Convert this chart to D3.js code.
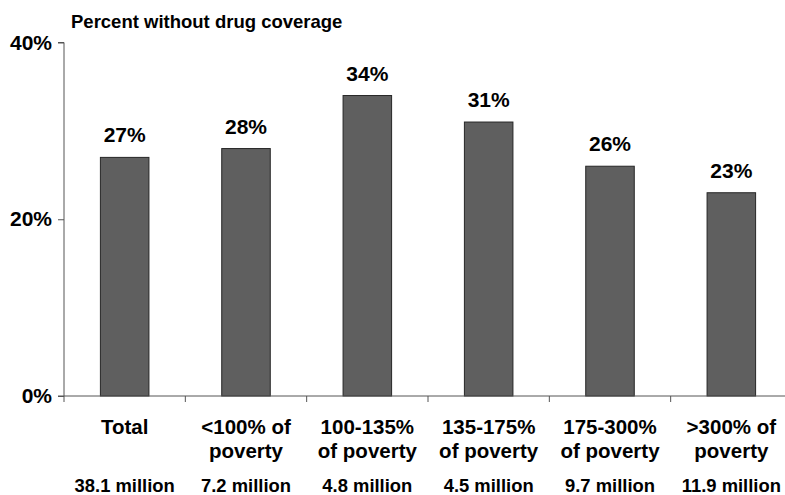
<!DOCTYPE html>
<html>
<head>
<meta charset="utf-8">
<script src="https://cdn.jsdelivr.net/npm/d3@7/dist/d3.min.js"></script>
<style>
  html, body { margin: 0; padding: 0; background: #fff; }
  svg { display: block; font-family: "Liberation Sans", Arial, sans-serif; font-weight: bold; }
</style>
</head>
<body>
<svg id="chart" width="785" height="495"></svg>
<script>
// Share of each income group without prescription drug coverage
const categories = ["Total", "<100% of poverty", "100-135% of poverty", "135-175% of poverty", "175-300% of poverty", ">300% of poverty"];
const categoryLines = [["Total"], ["<100% of", "poverty"], ["100-135%", "of poverty"], ["135-175%", "of poverty"], ["175-300%", "of poverty"], [">300% of", "poverty"]];
const populations = ["38.1 million", "7.2 million", "4.8 million", "4.5 million", "9.7 million", "11.9 million"];
const values = [27, 28, 34, 31, 26, 23];
const yTicks = [0, 20, 40];
const title = "Percent without drug coverage";

const svg = d3.select("#chart");

const plotLeft = 64, plotRight = 792, plotTop = 42.5, plotBottom = 396;

const y = d3.scaleLinear().domain([0, 40]).range([plotBottom, plotTop]);

// category slots (ticks fall on slot boundaries)
const slot = d3.scaleBand().domain(categories).range([plotLeft, plotRight]).padding(0);
// bars sit centred in their slots
const x = d3.scaleBand().domain(categories).range([plotLeft, plotRight]).paddingInner(0.6).paddingOuter(0.3);

// title
svg.append("text")
  .attr("x", 71).attr("y", 28)
  .attr("font-size", 18.5)
  .attr("fill", "#000")
  .text(title);

// bars
svg.append("g").selectAll("rect")
  .data(values)
  .join("rect")
  .attr("x", (d, i) => x(categories[i]))
  .attr("y", d => y(d))
  .attr("width", x.bandwidth())
  .attr("height", d => y(0) - y(d))
  .attr("fill", "#5f5f5f")
  .attr("stroke", "#262626")
  .attr("stroke-width", 1);

// value labels
svg.append("g").selectAll("text")
  .data(values)
  .join("text")
  .attr("x", (d, i) => x(categories[i]) + x.bandwidth() / 2)
  .attr("y", d => y(d) - 15)
  .attr("text-anchor", "middle")
  .attr("font-size", 21)
  .attr("fill", "#000")
  .text(d => d + "%");

// y axis
const yAxis = d3.axisLeft(y).tickValues(yTicks).tickSize(6).tickPadding(6).tickFormat(d => d + "%");
const gy = svg.append("g").attr("transform", `translate(${plotLeft},0)`).call(yAxis);
gy.select(".domain").attr("stroke", "#555").attr("d", `M-6,${plotTop}H0V${plotBottom}H-6`);
gy.selectAll(".tick line").attr("stroke", "#555");
gy.selectAll(".tick text").attr("font-size", 21).attr("fill", "#000")
  .attr("font-family", "Liberation Sans, Arial, sans-serif").attr("font-weight", "bold");

// x axis: line along zero with ticks at slot boundaries
const gx = svg.append("g").attr("transform", `translate(0,${plotBottom})`);
gx.append("line").attr("x1", plotLeft).attr("x2", plotRight).attr("stroke", "#555");
const bounds = categories.map(c => slot(c)).concat([slot(categories[categories.length - 1]) + slot.bandwidth()]);
gx.selectAll("line.tick")
  .data(bounds)
  .join("line")
  .attr("class", "tick")
  .attr("x1", d => d).attr("x2", d => d)
  .attr("y1", 0).attr("y2", 6)
  .attr("stroke", "#555");

// category labels
const catG = svg.append("g").selectAll("text")
  .data(categoryLines)
  .join("text")
  .attr("text-anchor", "middle")
  .attr("font-size", 20.5)
  .attr("fill", "#000")
  .attr("transform", (d, i) => `translate(${slot(categories[i]) + slot.bandwidth() / 2},434)`);
catG.selectAll("tspan")
  .data(d => d)
  .join("tspan")
  .attr("x", 0)
  .attr("y", (d, j) => j * 24)
  .text(d => d);

// population counts
svg.append("g").selectAll("text")
  .data(populations)
  .join("text")
  .attr("x", (d, i) => slot(categories[i]) + slot.bandwidth() / 2)
  .attr("y", 492)
  .attr("text-anchor", "middle")
  .attr("font-size", 18.4)
  .attr("fill", "#000")
  .text(d => d);
</script>
</body>
</html>
